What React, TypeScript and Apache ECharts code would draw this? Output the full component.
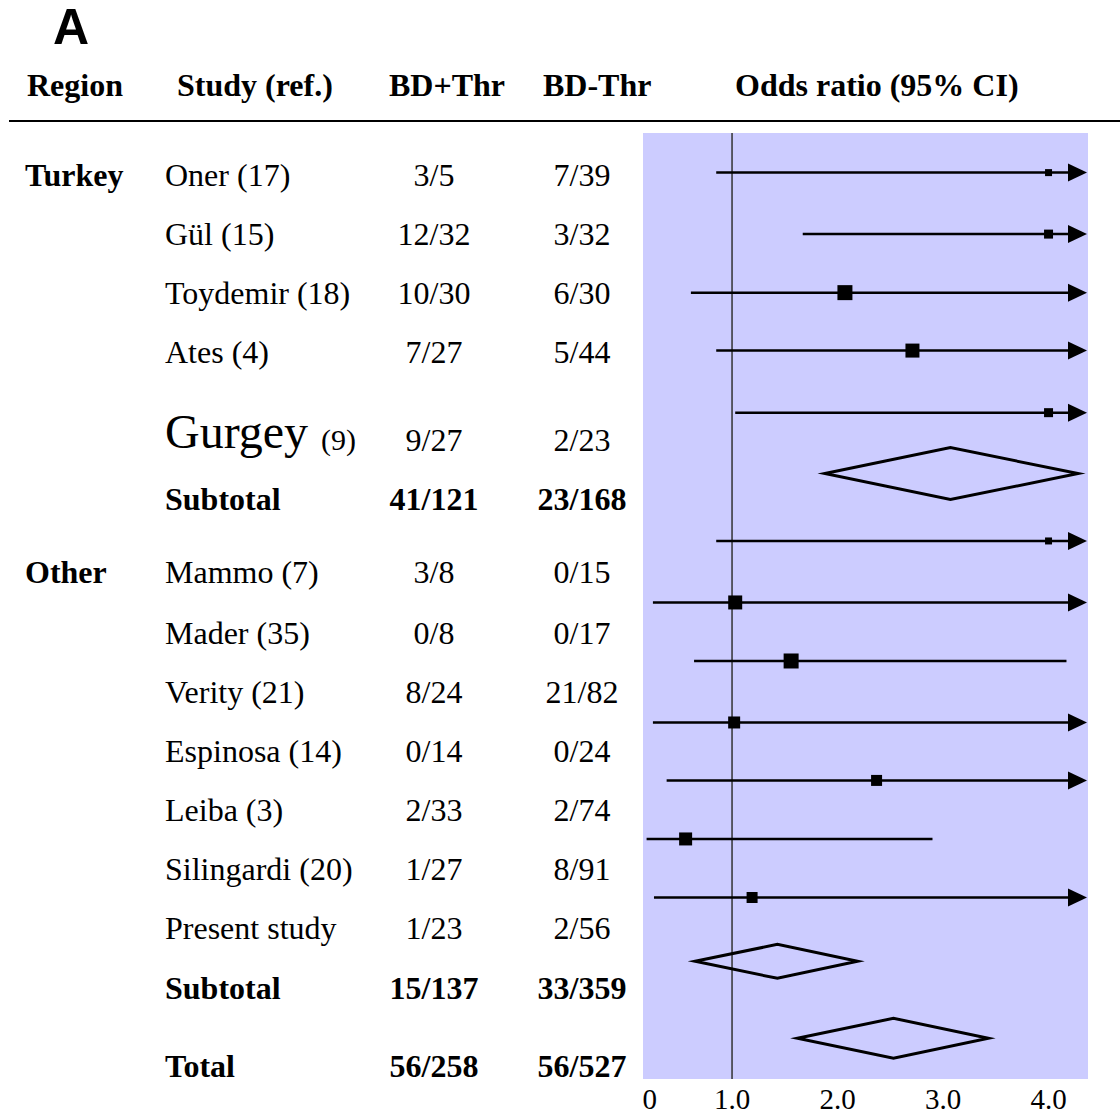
import React, { useEffect, useRef } from "react";
import * as echarts from "echarts";

// ---------------- DATA ----------------
const studyAuthor = ["Oner", "Gül", "Toydemir", "Ates", "Gurgey", "Mammo", "Mader", "Verity", "Espinosa", "Leiba", "Silingardi", "Present study"];
const studyRef = ["(17)", "(15)", "(18)", "(4)", "(9)", "(7)", "(35)", "(21)", "(14)", "(3)", "(20)", ""];
const bdPlusThr = ["3/5", "12/32", "10/30", "7/27", "9/27", "3/8", "0/8", "8/24", "0/14", "2/33", "1/27", "1/23"];
const bdMinusThr = ["7/39", "3/32", "6/30", "5/44", "2/23", "0/15", "0/17", "21/82", "0/24", "2/74", "8/91", "2/56"];
const oddsRatio = [4.0, 4.0, 2.07, 2.71, 4.0, 4.0, 1.03, 1.56, 1.02, 2.37, 0.56, 1.19];
const ciLower = [0.85, 1.67, 0.61, 0.85, 1.03, 0.85, 0.25, 0.64, 0.25, 0.38, 0.19, 0.26];
// null = upper limit beyond the axis (drawn as an arrow)
const ciUpper: (number | null)[] = [null, null, null, null, null, null, null, 4.17, null, null, 2.9, null];
const studyWeight = [7, 9, 15, 14, 9, 7, 14, 15, 12, 11, 13, 11];
const studyPlotRow = [0.67, 1.71, 2.7, 3.68, 4.73, 6.9, 7.94, 8.93, 9.97, 10.95, 11.94, 12.93];
const studyTextRow = [0.71, 1.71, 2.71, 3.7, 5.19, 7.42, 8.46, 9.45, 10.45, 11.45, 12.45, 13.45];

const summaryLabel = ["Subtotal", "Subtotal", "Total"];
const summaryPlus = ["41/121", "15/137", "56/258"];
const summaryMinus = ["23/168", "33/359", "56/527"];
const summaryOR = [3.07, 1.43, 2.53];
const summaryLower = [1.88, 0.65, 1.62];
const summaryUpper = [4.28, 2.19, 3.43];
const summaryPlotRow = [5.76, 14.01, 15.31];
const summaryTextRow = [6.19, 14.46, 15.78];

const regionLabel = ["Turkey", "Other"];
const regionTextRow = [0.71, 7.42];

const panelLabel = "A";
const headerLabels = ["Region", "Study (ref.)", "BD+Thr", "BD-Thr", "Odds ratio (95% CI)"];
const xTickValues = [0.22, 1, 2, 3, 4];
const xTickLabels = ["0", "1.0", "2.0", "3.0", "4.0"];
const referenceOR = 1;

// ---------------- LAYOUT / STYLE ----------------
const W = 1120;
const H = 1119;
const PLOT = { left: 643, top: 133, width: 445, height: 946 };
const X_MIN = 0.156;
const X_MAX = 4.374;
const ROW_MIN = 0;
const ROW_MAX = 16;
const COL_REGION = 25;
const COL_STUDY = 165;
const COL_PLUS = 434;
const COL_MINUS = 582;
const HEADER_X = [27, 177, 389, 543, 735];
const HEADER_Y = 85;
const RULE_Y = 121;
const SERIF = '"Liberation Serif", "Times New Roman", Times, serif';
const SANS = '"Liberation Sans", Arial, Helvetica, sans-serif';
const BODY_SIZE = 32;
const BIG_AUTHOR = "Gurgey";
const BIG_SIZE = 48;
const BIG_DY = -8;
const BIG_REF_DX = 156;
const BIG_REF_SIZE = 30;
const LAVENDER = "#CCCCFF";
const LINE_W = 2.5;
const ARROW_LEN = 19;
const ARROW_HALF = 9;
const WEIGHT_PX = 1;
const DIAMOND_HALF = [26, 17, 20];

type Cell = { x: number; row: number; text: string; bold: boolean; size: number; align: "left" | "center"; dy: number };

function buildCells(): Cell[] {
  const cells: Cell[] = [];
  studyAuthor.forEach((a, i) => {
    const r = studyTextRow[i];
    if (a === BIG_AUTHOR) {
      cells.push({ x: COL_STUDY, row: r, text: a, bold: false, size: BIG_SIZE, align: "left", dy: BIG_DY });
      cells.push({ x: COL_STUDY + BIG_REF_DX, row: r, text: studyRef[i], bold: false, size: BIG_REF_SIZE, align: "left", dy: 0 });
    } else {
      cells.push({ x: COL_STUDY, row: r, text: (a + " " + studyRef[i]).trim(), bold: false, size: BODY_SIZE, align: "left", dy: 0 });
    }
    cells.push({ x: COL_PLUS, row: r, text: bdPlusThr[i], bold: false, size: BODY_SIZE, align: "center", dy: 0 });
    cells.push({ x: COL_MINUS, row: r, text: bdMinusThr[i], bold: false, size: BODY_SIZE, align: "center", dy: 0 });
  });
  summaryLabel.forEach((s, i) => {
    const r = summaryTextRow[i];
    cells.push({ x: COL_STUDY, row: r, text: s, bold: true, size: BODY_SIZE, align: "left", dy: 0 });
    cells.push({ x: COL_PLUS, row: r, text: summaryPlus[i], bold: true, size: BODY_SIZE, align: "center", dy: 0 });
    cells.push({ x: COL_MINUS, row: r, text: summaryMinus[i], bold: true, size: BODY_SIZE, align: "center", dy: 0 });
  });
  regionLabel.forEach((s, i) => {
    cells.push({ x: COL_REGION, row: regionTextRow[i], text: s, bold: true, size: BODY_SIZE, align: "left", dy: 0 });
  });
  return cells;
}

export default function App() {
  const ref = useRef<HTMLDivElement>(null);

  useEffect(() => {
    if (!ref.current) return;
    const chart = echarts.init(ref.current, null, { renderer: "svg" });
    const cells = buildCells();

    const studyRender = (params: any, api: any) => {
      const i = params.dataIndex;
      const row = studyPlotRow[i];
      const c = api.coord([oddsRatio[i], row]);
      const y = c[1];
      const xLo = api.coord([ciLower[i], row])[0];
      const children: any[] = [];
      const hi = ciUpper[i];
      let xEnd: number;
      if (hi === null || hi > X_MAX) {
        const xTip = api.coord([X_MAX, row])[0] - 1;
        xEnd = xTip - ARROW_LEN + 2;
        children.push({
          type: "polygon",
          shape: { points: [[xTip - ARROW_LEN, y - ARROW_HALF], [xTip, y], [xTip - ARROW_LEN, y + ARROW_HALF]] },
          style: { fill: "#000" },
        });
      } else {
        xEnd = api.coord([hi, row])[0];
      }
      children.push({
        type: "line",
        shape: { x1: xLo, y1: y, x2: xEnd, y2: y },
        style: { stroke: "#000", lineWidth: LINE_W },
      });
      const s = studyWeight[i] * WEIGHT_PX;
      children.push({
        type: "rect",
        shape: { x: c[0] - s / 2, y: y - s / 2, width: s, height: s },
        style: { fill: "#000" },
      });
      return { type: "group", children };
    };

    const diamondRender = (params: any, api: any) => {
      const i = params.dataIndex;
      const row = summaryPlotRow[i];
      const c = api.coord([summaryOR[i], row]);
      const lo = api.coord([summaryLower[i], row]);
      const hi = api.coord([summaryUpper[i], row]);
      const h = DIAMOND_HALF[i];
      return {
        type: "polygon",
        shape: { points: [[lo[0], lo[1]], [c[0], c[1] - h], [hi[0], hi[1]], [c[0], c[1] + h]] },
        style: { fill: "none", stroke: "#000", lineWidth: 3, lineJoin: "miter", miterLimit: 12 },
      };
    };

    const textRender = (params: any, api: any) => {
      const cell = cells[params.dataIndex];
      const p = api.coord([cell.x, cell.row]);
      return {
        type: "text",
        x: p[0],
        y: p[1] + cell.dy,
        style: {
          text: cell.text,
          fill: "#000",
          font: `${cell.bold ? "bold " : ""}${cell.size}px ${SERIF}`,
          align: cell.align,
          verticalAlign: "middle",
        },
      };
    };

    const option: any = {
      animation: false,
      backgroundColor: "#ffffff",
      grid: [
        {
          left: PLOT.left,
          top: PLOT.top,
          width: PLOT.width,
          height: PLOT.height,
          show: true,
          backgroundColor: LAVENDER,
          borderWidth: 0,
          containLabel: false,
          outerBoundsMode: "none",
        },
        {
          left: 0,
          top: PLOT.top,
          width: W,
          height: PLOT.height,
          show: false,
          containLabel: false,
          outerBoundsMode: "none",
        },
      ],
      xAxis: [
        {
          type: "value",
          gridIndex: 0,
          min: X_MIN,
          max: X_MAX,
          axisLine: { show: false },
          axisTick: { show: false },
          splitLine: { show: false },
          axisLabel: {
            show: true,
            customValues: xTickValues,
            margin: 5,
            color: "#000",
            fontFamily: SERIF,
            fontSize: 29,
            lineHeight: 29,
            formatter: (v: number) => {
              let best = 0;
              xTickValues.forEach((t, k) => {
                if (Math.abs(t - v) < Math.abs(xTickValues[best] - v)) best = k;
              });
              return xTickLabels[best];
            },
          },
        },
        { type: "value", gridIndex: 1, min: 0, max: W, show: false },
      ],
      yAxis: [
        { type: "value", gridIndex: 0, min: ROW_MIN, max: ROW_MAX, inverse: true, show: false },
        { type: "value", gridIndex: 1, min: ROW_MIN, max: ROW_MAX, inverse: true, show: false },
      ],
      graphic: [
        {
          type: "text",
          x: 53,
          y: 27,
          style: { text: panelLabel, font: `bold 50px ${SANS}`, fill: "#000", align: "left", verticalAlign: "middle" },
        },
        ...headerLabels.map((h, k) => ({
          type: "text",
          x: HEADER_X[k],
          y: HEADER_Y,
          style: { text: h, font: `bold 32px ${SERIF}`, fill: "#000", align: "left", verticalAlign: "middle" },
        })),
        {
          type: "line",
          shape: { x1: 9, y1: RULE_Y, x2: W, y2: RULE_Y },
          style: { stroke: "#000", lineWidth: 2 },
        },
      ],
      series: [
        {
          type: "line",
          xAxisIndex: 0,
          yAxisIndex: 0,
          data: [[referenceOR, ROW_MIN], [referenceOR, ROW_MAX]],
          symbol: "none",
          lineStyle: { color: "#333", width: 1.5 },
          silent: true,
          z: 1,
        },
        {
          type: "custom",
          xAxisIndex: 0,
          yAxisIndex: 0,
          data: oddsRatio.map((o, i) => [o, studyPlotRow[i]]),
          renderItem: studyRender,
          silent: true,
          z: 3,
        },
        {
          type: "custom",
          xAxisIndex: 0,
          yAxisIndex: 0,
          data: summaryOR.map((o, i) => [o, summaryPlotRow[i]]),
          renderItem: diamondRender,
          silent: true,
          z: 3,
        },
        {
          type: "custom",
          xAxisIndex: 1,
          yAxisIndex: 1,
          data: cells.map((c) => [c.x, c.row]),
          renderItem: textRender,
          silent: true,
          z: 4,
        },
      ],
    };

    chart.setOption(option);
    return () => chart.dispose();
  }, []);

  return (
    <div
      ref={ref}
      style={{ position: "fixed", left: 0, top: 0, width: W, height: H, background: "#fff" }}
    />
  );
}
